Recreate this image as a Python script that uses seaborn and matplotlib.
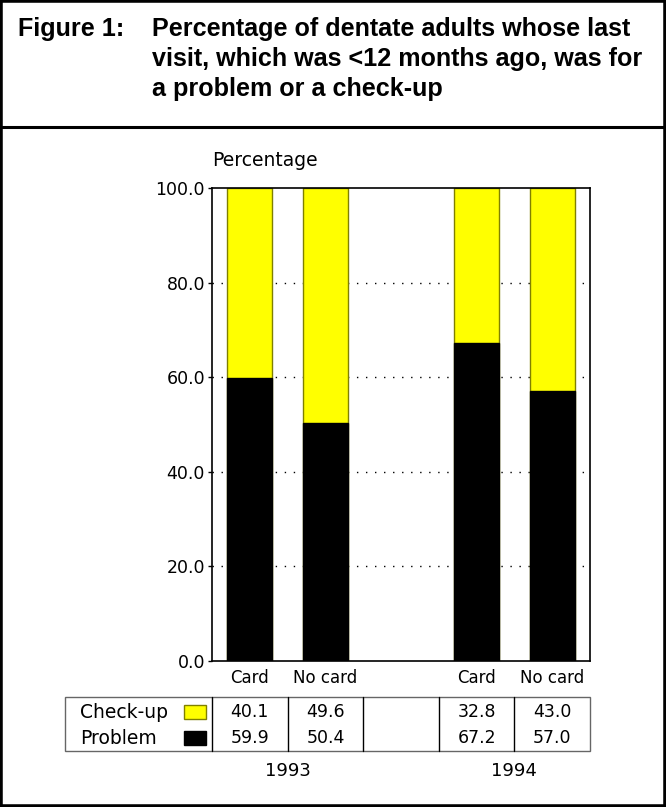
import numpy as np
import pandas as pd
import matplotlib
matplotlib.use("Agg")
import matplotlib.pyplot as plt
from matplotlib.patches import Rectangle
from matplotlib.lines import Line2D
import seaborn as sns

sns.set_style("white")
plt.rcParams['font.family'] = ['DejaVu Sans']
plt.rcParams['text.color'] = 'black'
plt.rcParams['xtick.color'] = 'black'
plt.rcParams['ytick.color'] = 'black'

# data
slots = [0, 1, 3, 4]
cards = ["Card", "No card", "Card", "No card"]
years = ["1993", "1994"]
checkup = [40.1, 49.6, 32.8, 43.0]
problem = [59.9, 50.4, 67.2, 57.0]
yticks = [0, 20, 40, 60, 80, 100]

df = pd.DataFrame({"slot": slots, "card": cards,
                   "checkup": checkup, "problem": problem})
df["total"] = df["checkup"] + df["problem"]

W, H = 666, 807
fig = plt.figure(figsize=(W / 100, H / 100), dpi=100)

def fx(px):
    return px / W

def fy(py):
    return 1 - py / H

ax = fig.add_axes([fx(212), fy(661), fx(590) - fx(212), fy(188) - fy(661)])

# dotted gridlines behind bars
for v in yticks[1:-1]:
    ax.axhline(v, color="black", lw=1.0, ls=(0, (1.0, 5.5)), zorder=0)

sns.barplot(data=df, x="slot", y="total", native_scale=True, width=0.6,
            color="#ffff00", edgecolor="#808000", linewidth=1.0,
            saturation=1, ax=ax, zorder=2)
sns.barplot(data=df, x="slot", y="problem", native_scale=True, width=0.6,
            color="black", edgecolor="black", linewidth=1.0,
            saturation=1, ax=ax, zorder=3)

ax.set_xlim(-0.5, 4.5)
ax.set_ylim(0, 100)
ax.set_yticks(yticks)
ax.set_yticklabels([f"{v:.1f}" for v in yticks], fontsize=12.5)
ax.set_xticks(slots)
ax.set_xticklabels(cards, fontsize=12)
ax.tick_params(axis="x", length=0, pad=6)
ax.tick_params(axis="y", length=3, width=1, direction="out", pad=2, left=True)
ax.set_xlabel("")
ax.set_ylabel("")
for s in ax.spines.values():
    s.set_visible(True)
    s.set_color("black")
    s.set_linewidth(1.2)
fig.text(fx(212), fy(160), "Percentage", fontsize=13.5, va="center", ha="left")

# data table under the chart
t_top, t_bot = fy(697), fy(751)
row1, row2 = fy(712), fy(738)
fig.add_artist(Rectangle((fx(65), t_bot), fx(590) - fx(65), t_top - t_bot,
                         transform=fig.transFigure, fill=False,
                         edgecolor="#666666", lw=1.0))
for b in [212, 287.6, 363.2, 438.8, 514.4]:
    fig.add_artist(Line2D([fx(b), fx(b)], [t_bot, t_top], color="black", lw=1.0,
                          transform=fig.transFigure))
for i, s in enumerate(slots):
    xpos = fx(212 + (s + 0.5) * 75.6)
    fig.text(xpos, row1, f"{checkup[i]:.1f}", ha="center", va="center", fontsize=12.5)
    fig.text(xpos, row2, f"{problem[i]:.1f}", ha="center", va="center", fontsize=12.5)

fig.text(fx(80), row1, "Check-up", ha="left", va="center", fontsize=13.5)
fig.text(fx(80), row2, "Problem", ha="left", va="center", fontsize=13.5)
fig.add_artist(Rectangle((fx(184), row1 - 7 / H), fx(22), 14 / H,
                         transform=fig.transFigure, facecolor="#ffff00",
                         edgecolor="#808000", lw=1.0))
fig.add_artist(Rectangle((fx(184), row2 - 7 / H), fx(22), 14 / H,
                         transform=fig.transFigure, facecolor="black",
                         edgecolor="black", lw=1.0))

for yr, c in zip(years, [0.5, 3.5]):
    fig.text(fx(212 + (c + 0.5) * 75.6), fy(771), yr, ha="center", va="center",
             fontsize=13)

# title block and frame
tfont = dict(fontsize=18.1, fontweight="bold", family="Liberation Sans",
             va="center", ha="left", color="black")
fig.text(fx(18), fy(29), "Figure 1:", **tfont)
fig.text(fx(152), fy(29), "Percentage of dentate adults whose last", **tfont)
fig.text(fx(152), fy(59), "visit, which was <12 months ago, was for", **tfont)
fig.text(fx(152), fy(89), "a problem or a check-up", **tfont)
fig.add_artist(Line2D([0, 1], [fy(127), fy(127)], color="black", lw=2.2,
                      transform=fig.transFigure))
fig.add_artist(Rectangle((0, 0), 1, 1, transform=fig.transFigure, fill=False,
                         edgecolor="black", lw=4))

fig.savefig("out.png", dpi=100)
